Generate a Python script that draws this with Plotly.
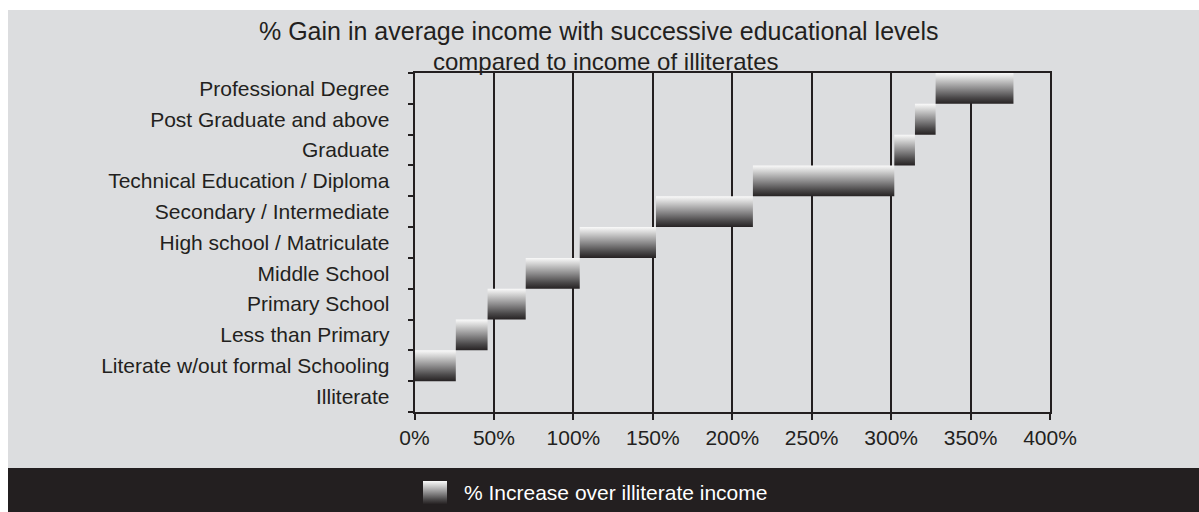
import plotly.graph_objects as go

# Educational levels, bottom to top, and cumulative % gain over illiterate income
levels = [
    "Illiterate",
    "Literate w/out formal Schooling",
    "Less than Primary",
    "Primary School",
    "Middle School",
    "High school / Matriculate",
    "Secondary / Intermediate",
    "Technical Education / Diploma",
    "Graduate",
    "Post Graduate and above",
    "Professional Degree",
]
cum_gain = [0, 26, 46, 70, 104, 152, 213, 302, 315, 328, 377]

x_ticks = [0, 50, 100, 150, 200, 250, 300, 350, 400]

W, H = 1199, 512
INK = "#231f20"
PANEL = "#dcdddf"
FONT = "Liberation Sans, Arial, sans-serif"
GRADIENT = [
    [0.0, "#262223"],
    [0.2, "#4b494a"],
    [0.5, "#8e8d8e"],
    [0.8, "#d0d0d0"],
    [1.0, "#fafafa"],
]


def px_x(p):
    return p / W


def px_y(p):
    return (H - p) / H


fig = go.Figure()

# floating bars: each level spans from the previous level's gain to its own
for i in range(1, len(levels)):
    x0, x1 = cum_gain[i - 1], cum_gain[i]
    fig.add_trace(go.Scatter(
        x=[x0, x1, x1, x0, x0],
        y=[i - 0.5, i - 0.5, i + 0.5, i + 0.5, i - 0.5],
        mode="lines",
        fill="toself",
        fillgradient=dict(type="vertical", colorscale=GRADIENT),
        line=dict(width=0, color="rgba(0,0,0,0)"),
        showlegend=False,
        hoverinfo="skip",
        name=levels[i],
    ))

# carrier for the category label axis
fig.add_trace(go.Scatter(x=[None], y=[None], yaxis="y2", showlegend=False,
                         hoverinfo="skip"))

# legend swatch
fig.add_trace(go.Scatter(
    x=[0, 1, 1, 0, 0], y=[0, 0, 1, 1, 0],
    xaxis="x3", yaxis="y3",
    mode="lines", fill="toself",
    fillgradient=dict(type="vertical", colorscale=GRADIENT),
    line=dict(width=0, color="rgba(0,0,0,0)"),
    showlegend=False, hoverinfo="skip",
))

n = len(levels)
fig.update_layout(
    width=W, height=H,
    margin=dict(l=0, r=0, t=0, b=0, autoexpand=False),
    paper_bgcolor="white",
    plot_bgcolor=PANEL,
    showlegend=False,
    font=dict(family=FONT, size=21, color=INK),
    xaxis=dict(
        domain=[px_x(414.5), px_x(1050)],
        range=[0, 400],
        tickmode="array", tickvals=x_ticks,
        ticktext=[f"{v}%" for v in x_ticks],
        showgrid=True, gridcolor=INK, gridwidth=2,
        zeroline=False,
        showline=True, linecolor=INK, linewidth=2, mirror=True,
        ticks="outside", ticklen=6, tickwidth=2, tickcolor=INK,
        tickfont=dict(size=21, color=INK),
        automargin=False,
        fixedrange=True,
    ),
    yaxis=dict(
        domain=[px_y(412), px_y(73)],
        range=[-0.5, n - 0.5],
        tickmode="array",
        tickvals=[k - 0.5 for k in range(n + 1)],
        showticklabels=False,
        ticks="outside", ticklen=5, tickwidth=2, tickcolor=INK,
        showgrid=False, zeroline=False,
        showline=True, linecolor=INK, linewidth=2, mirror=True,
        automargin=False,
        fixedrange=True,
    ),
    yaxis2=dict(
        overlaying="y", side="left", anchor="x",
        range=[-0.5, n - 0.5],
        tickmode="array", tickvals=list(range(n)), ticktext=levels,
        ticks="", showgrid=False, zeroline=False, showline=False,
        ticklabelstandoff=24,
        tickfont=dict(size=21, color=INK),
        automargin=False,
        fixedrange=True,
    ),
    xaxis3=dict(domain=[px_x(423), px_x(447)], range=[0, 1], anchor="y3",
                visible=False, fixedrange=True),
    yaxis3=dict(domain=[px_y(504), px_y(481)], range=[0, 1], anchor="x3",
                visible=False, fixedrange=True),
    shapes=[
        dict(type="rect", xref="paper", yref="paper", layer="below",
             x0=px_x(8), x1=1, y0=0, y1=px_y(10),
             fillcolor=PANEL, line=dict(width=0)),
        dict(type="rect", xref="paper", yref="paper", layer="below",
             x0=px_x(8), x1=1, y0=0, y1=px_y(468),
             fillcolor=INK, line=dict(width=0)),
    ],
    annotations=[
        dict(text="% Gain in average income with successive educational levels",
             x=px_x(599), y=px_y(31), xref="paper", yref="paper",
             xanchor="center", yanchor="middle", showarrow=False,
             font=dict(size=25, color=INK)),
        dict(text="compared to income of illiterates",
             x=px_x(606), y=px_y(61), xref="paper", yref="paper",
             xanchor="center", yanchor="middle", showarrow=False,
             font=dict(size=24, color=INK)),
        dict(text="% Increase over illiterate income",
             x=px_x(462), y=px_y(492), xref="paper", yref="paper",
             xanchor="left", yanchor="middle", showarrow=False,
             font=dict(size=21, color="white")),
    ],
)

fig.write_html("out.html")
